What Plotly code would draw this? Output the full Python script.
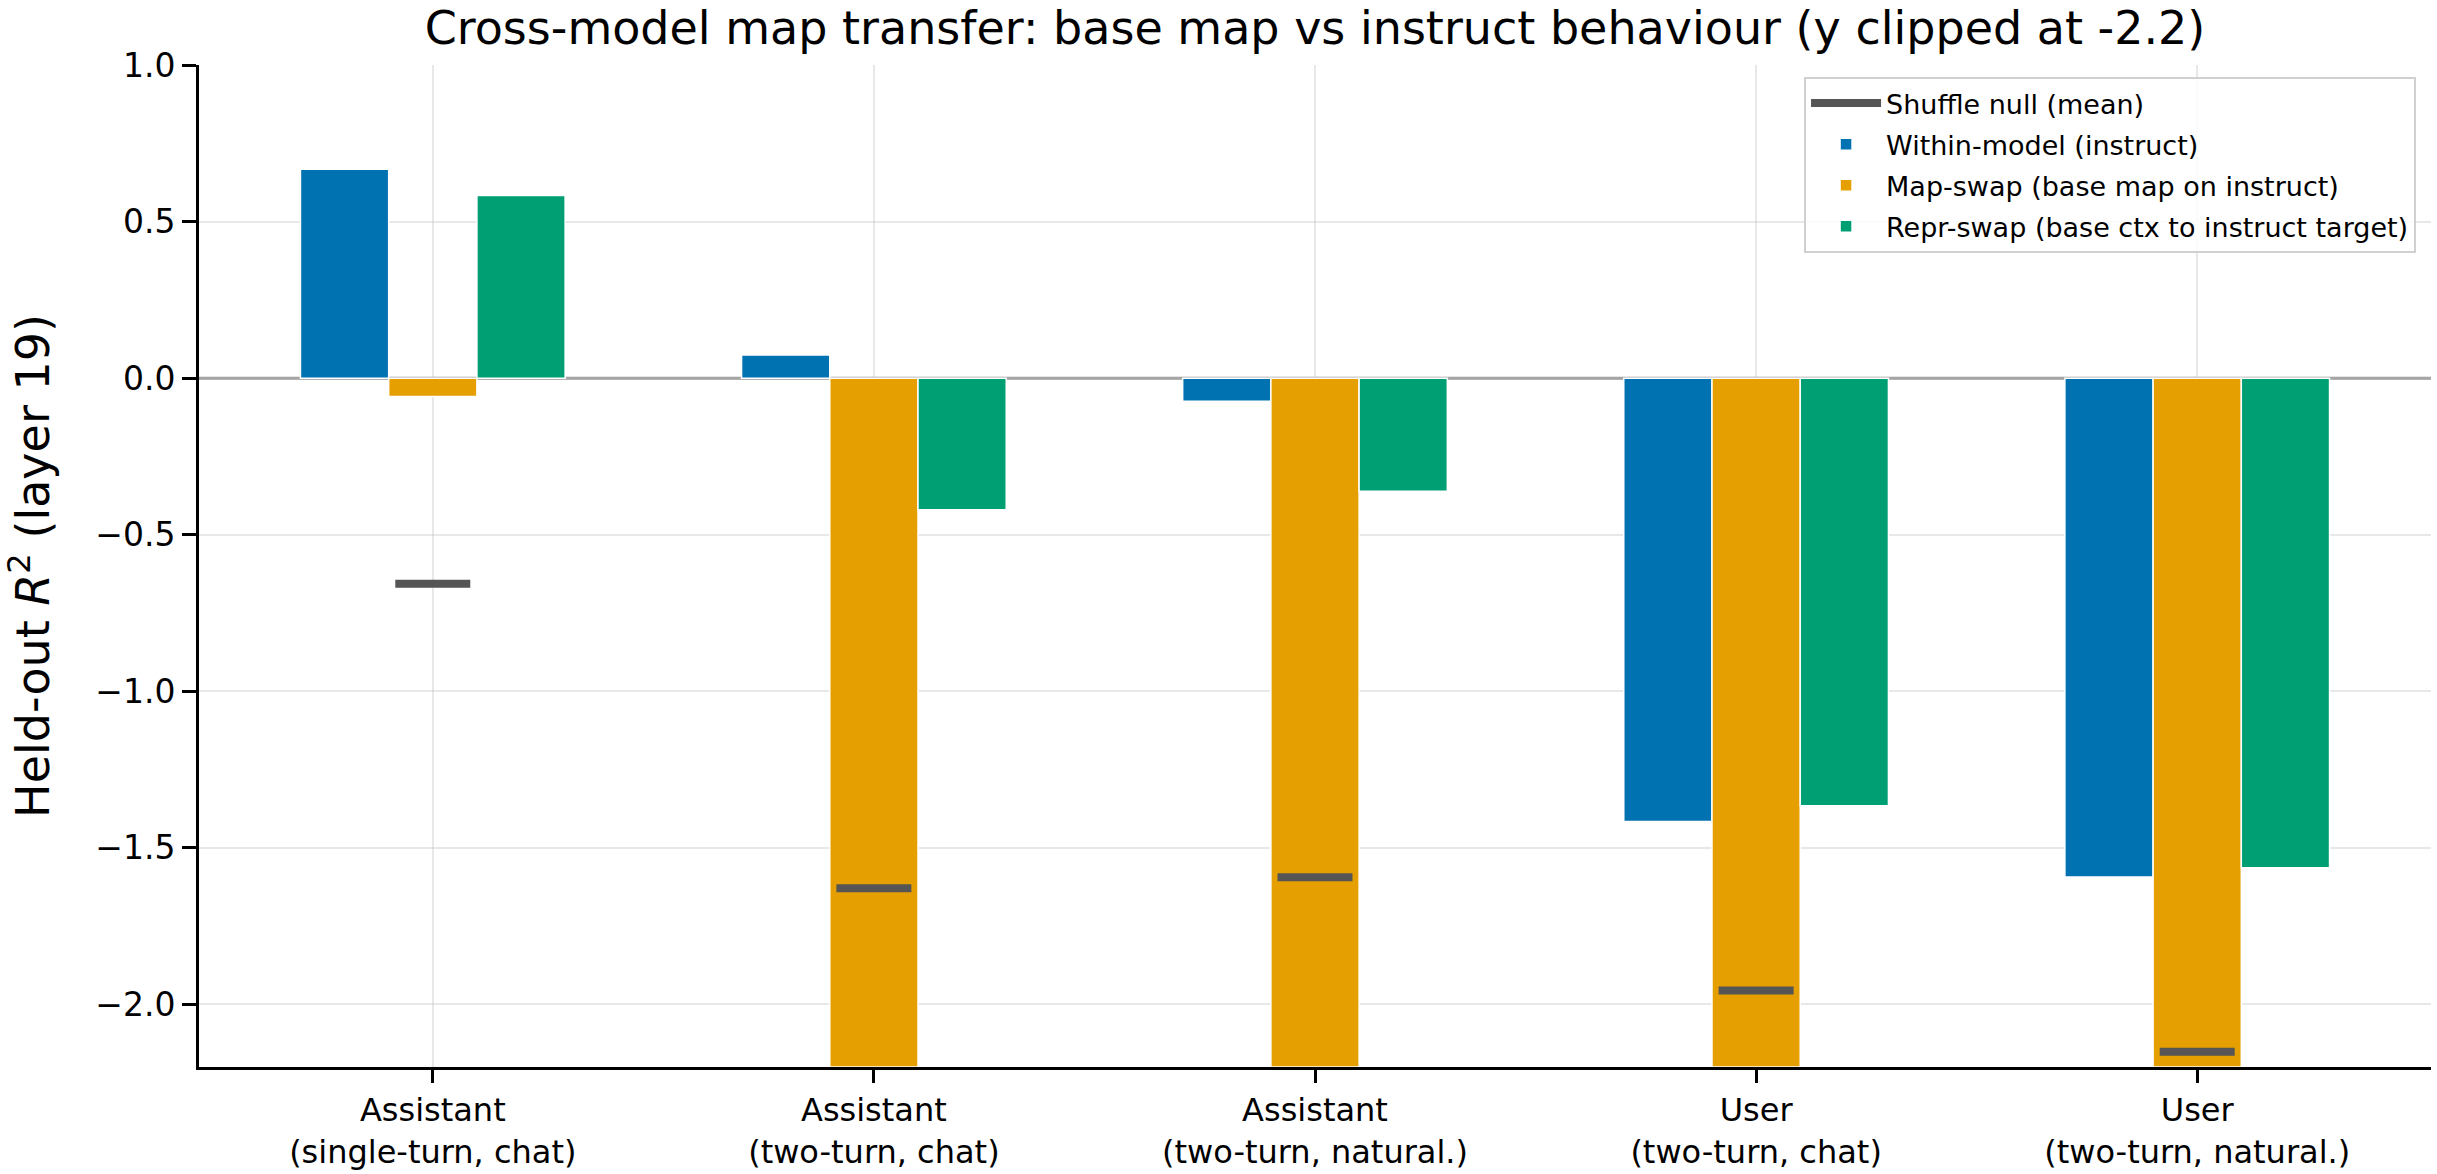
import plotly.graph_objects as go

categories = [
    "Assistant<br>(single-turn, chat)",
    "Assistant<br>(two-turn, chat)",
    "Assistant<br>(two-turn, natural.)",
    "User<br>(two-turn, chat)",
    "User<br>(two-turn, natural.)",
]
within_model = [0.667, 0.074, -0.074, -1.416, -1.593]
map_swap = [-0.059, -2.2, -2.2, -2.2, -2.2]  # values below -2.2 shown clipped
repr_swap = [0.583, -0.420, -0.361, -1.366, -1.564]
shuffle_null = [-0.657, -1.629, -1.594, -1.956, -2.151]

Y_CLIP = -2.2
idx = list(range(len(categories)))

FONT = "DejaVu Sans"
C_BLUE = "#0072B2"
C_ORANGE = "#E69F00"
C_GREEN = "#009E73"
C_NULL = "#555555"
GRID = "rgba(190,190,190,0.35)"

fig = go.Figure()

# null segments centered on each category (drawn over the middle bar)
half = 0.085
nx, ny = [], []
for i, v in zip(idx, shuffle_null):
    nx += [i - half, i + half, None]
    ny += [v, v, None]

fig.add_trace(go.Scatter(
    x=nx, y=ny, mode="lines", name="Shuffle null (mean)",
    line=dict(color=C_NULL, width=8), legendgroup="a",
))
for name, vals, col, g in [
    ("Within-model (instruct)", within_model, C_BLUE, "b"),
    ("Map-swap (base map on instruct)", map_swap, C_ORANGE, "c"),
    ("Repr-swap (base ctx to instruct target)", repr_swap, C_GREEN, "d"),
]:
    fig.add_trace(go.Bar(
        x=idx, y=[max(v, Y_CLIP) for v in vals], name=name,
        marker=dict(color=col, line=dict(color="white", width=1.5)),
        legendgroup=g,
    ))

fig.add_shape(type="line", xref="paper", x0=0, x1=1, yref="y", y0=0, y1=0,
              line=dict(color="#999999", width=3), layer="below")

fig.update_layout(
    template="none",
    width=2437, height=1174,
    margin=dict(l=199, r=6, t=65, b=107, pad=0),
    paper_bgcolor="white", plot_bgcolor="white",
    font=dict(family=FONT, color="black", size=32),
    barmode="group", bargap=0.4, bargroupgap=0.0,
    title=dict(
        text="Cross-model map transfer: base map vs instruct behaviour (y clipped at -2.2)",
        x=0.5, xref="paper", xanchor="center",
        y=1 - 28 / 1174, yref="container", yanchor="middle",
        font=dict(family=FONT, size=46, color="black"),
    ),
    legend=dict(
        x=0.9933, xanchor="right", y=0.988, yanchor="top",
        bgcolor="rgba(255,255,255,0.85)", bordercolor="#d0d0d0", borderwidth=2,
        font=dict(family=FONT, size=27, color="black"),
        itemwidth=70, tracegroupgap=3, traceorder="grouped",
    ),
    showlegend=True,
)

fig.update_xaxes(
    range=[-0.53, 4.53], tickmode="array", tickvals=idx, ticktext=categories,
    showgrid=True, gridcolor=GRID, gridwidth=2,
    showline=True, linecolor="black", linewidth=3,
    ticks="outside", ticklen=13, tickwidth=2.5, tickcolor="black",
    tickfont=dict(family=FONT, size=32, color="black"),
    zeroline=False, automargin=False, layer="above traces",
)
fig.update_yaxes(
    range=[-2.2, 1.0], tickmode="linear", tick0=0, dtick=0.5, tickformat=".1f",
    showgrid=True, gridcolor=GRID, gridwidth=2,
    showline=True, linecolor="black", linewidth=3,
    ticks="outside", ticklen=14, tickwidth=2.5, tickcolor="black",
    tickfont=dict(family=FONT, size=33, color="black"),
    zeroline=False, automargin=False, layer="above traces",
    title=dict(text="Held-out <i>R</i><sup>2</sup> (layer 19)",
               font=dict(family=FONT, size=46, color="black"), standoff=33),
)

fig.write_html("out.html")
